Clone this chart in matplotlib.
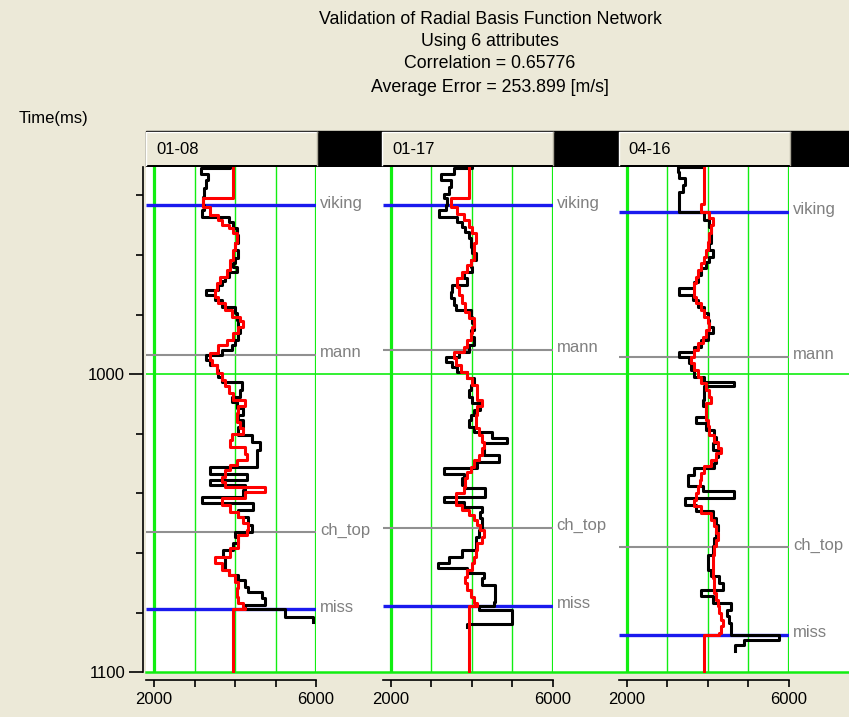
import numpy as np
import matplotlib.pyplot as plt
from matplotlib.patches import Rectangle

plt.rcParams['font.family'] = ['Liberation Sans', 'DejaVu Sans']

W, H = 849, 717

title_lines = ["Validation of Radial Basis Function Network",
               "Using 6 attributes",
               "Correlation = 0.65776",
               "Average Error = 253.899 [m/s]"]
wells = ["01-08", "01-17", "04-16"]
horizons = ["viking", "mann", "ch_top", "miss"]
horizon_times = [[943.3, 993.5, 1053.0, 1078.8],
                 [943.3, 991.8, 1051.5, 1077.6],
                 [945.5, 994.1, 1058.0, 1087.3]]

# (time ms, velocity m/s) - value holds from this time until the next one
actual_0108 = [(929.5, 3880), (931.0, 3160), (932.7, 3340), (934.9, 3290), (937.7, 3240),
               (940.5, 3200), (943.3, 3230), (944.9, 3180), (947.2, 3840), (948.9, 3960),
               (951.1, 4040), (953.3, 4080), (956.1, 4000), (958.3, 4070), (961.1, 4000),
               (962.8, 3960), (963.9, 4040), (965.6, 3840), (967.3, 3750), (968.9, 3670),
               (970.1, 3590), (971.7, 3280), (973.4, 3510), (975.1, 3670), (977.3, 4000),
               (979.6, 4040), (981.8, 4080), (984.0, 4120), (986.3, 4080), (988.5, 4000),
               (990.2, 3920), (991.8, 3670), (993.5, 3280), (995.2, 3390), (996.9, 3550),
               (998.5, 3590), (1000.8, 3670), (1002.5, 4160), (1005.2, 4120), (1007.5, 3920),
               (1009.2, 4040), (1011.4, 4200), (1013.6, 4080), (1015.4, 4200), (1017.6, 4080),
               (1020.4, 4410), (1022.7, 4620), (1025.5, 4530), (1031.0, 3390), (1033.3, 4290),
               (1035.5, 3390), (1037.2, 4250), (1038.9, 4200), (1041.1, 3180), (1043.3, 4450),
               (1045.6, 4080), (1047.8, 4330), (1050.6, 4410), (1052.8, 4000), (1054.5, 4080),
               (1056.7, 3960), (1059.0, 3710), (1061.2, 3750), (1065.7, 3840), (1067.3, 4080),
               (1069.0, 4250), (1071.2, 4330), (1072.9, 4660), (1075.2, 4740), (1077.4, 4250),
               (1078.8, 5230), (1081.3, 5930), (1083.2, 5930)]
predicted_0108 = [(929.0, 3950), (941.0, 3220), (943.8, 3390), (946.6, 3590), (948.3, 3670),
                  (950.0, 3840), (951.1, 3960), (952.8, 4040), (956.1, 4000), (958.3, 3960),
                  (961.7, 3880), (965.0, 3800), (967.3, 3630), (969.5, 3550), (971.7, 3510),
                  (974.0, 3590), (976.2, 3750), (978.4, 3920), (980.7, 4120), (982.3, 4200),
                  (984.0, 4080), (986.3, 3960), (988.5, 3800), (990.2, 3590), (993.0, 3390),
                  (995.2, 3430), (996.9, 3550), (999.7, 3670), (1001.9, 3750), (1004.1, 3840),
                  (1006.4, 3960), (1008.6, 4250), (1010.8, 4080), (1013.1, 4040), (1016.0, 4120),
                  (1018.2, 4200), (1019.9, 3920), (1022.1, 3880), (1024.3, 4250), (1026.6, 4290),
                  (1028.8, 4040), (1030.5, 3880), (1032.2, 3750), (1034.4, 3670), (1036.1, 3750),
                  (1037.7, 4740), (1039.4, 4250), (1041.6, 3670), (1043.9, 3880), (1046.1, 4080),
                  (1047.8, 4200), (1050.0, 4330), (1052.3, 4290), (1053.9, 4080), (1058.4, 3880),
                  (1061.2, 3510), (1063.4, 3670), (1065.7, 3840), (1067.3, 4000), (1069.6, 4080),
                  (1071.8, 4040), (1074.6, 4080), (1076.8, 4200), (1078.5, 4250), (1078.8, 3950),
                  (1100.5, 3950)]

actual_0117 = [(929.5, 4020), (931.0, 3570), (932.7, 3240), (934.9, 3480), (937.1, 3440),
               (939.4, 3320), (941.0, 3400), (943.3, 3360), (944.9, 3200), (947.2, 3650),
               (948.9, 3770), (950.5, 3850), (952.2, 3930), (954.4, 3980), (957.2, 4020),
               (959.5, 4100), (961.7, 3980), (963.9, 4020), (965.6, 3810), (967.8, 3890),
               (970.1, 3520), (972.3, 3480), (974.5, 3570), (976.8, 3610), (978.4, 3980),
               (980.7, 4020), (982.9, 4060), (985.1, 3980), (987.4, 4060), (990.2, 3930),
               (992.4, 3690), (994.1, 3360), (995.8, 3520), (997.6, 3650), (999.4, 3890),
               (1001.3, 4060), (1003.6, 3980), (1005.2, 3930), (1007.5, 4020), (1009.7, 4220),
               (1011.9, 4060), (1013.7, 3980), (1015.4, 3930), (1017.6, 4060), (1019.3, 4510),
               (1021.5, 4880), (1023.2, 4300), (1027.1, 4670), (1029.4, 4140), (1031.6, 3320),
               (1033.3, 3810), (1034.9, 3770), (1037.2, 3850), (1038.3, 4340), (1041.1, 3320),
               (1042.8, 3810), (1044.4, 4260), (1046.1, 4220), (1048.3, 4260), (1052.3, 4180),
               (1054.5, 4100), (1059.0, 3770), (1061.2, 3440), (1063.4, 3160), (1065.1, 3890),
               (1066.8, 4300), (1068.4, 4260), (1070.7, 4590), (1076.3, 4550), (1077.6, 4180),
               (1079.1, 5000), (1083.9, 3890), (1084.7, 3890)]
predicted_0117 = [(929.0, 3930), (941.0, 3480), (943.8, 3650), (946.1, 3810), (948.3, 3930),
                  (950.5, 4020), (952.8, 4100), (956.1, 4060), (961.7, 3980), (963.4, 3890),
                  (965.6, 3770), (967.8, 3650), (970.6, 3690), (973.4, 3770), (976.2, 3850),
                  (979.0, 3930), (981.2, 4060), (984.0, 4020), (986.3, 3980), (988.5, 3890),
                  (990.7, 3810), (992.4, 3570), (994.6, 3610), (996.9, 3730), (999.1, 3890),
                  (1001.3, 4020), (1003.6, 4140), (1008.6, 4260), (1010.8, 4140), (1013.6, 4100),
                  (1018.2, 4180), (1020.4, 4260), (1022.7, 4300), (1024.9, 4260), (1027.1, 4180),
                  (1028.8, 4060), (1031.0, 3980), (1032.7, 3890), (1034.9, 3850), (1037.7, 3810),
                  (1040.0, 3610), (1043.9, 3770), (1045.6, 3930), (1047.2, 4060), (1048.9, 4140),
                  (1050.6, 4220), (1052.3, 4300), (1054.5, 4260), (1056.7, 4140), (1059.0, 4100),
                  (1061.2, 4060), (1063.4, 4020), (1065.7, 3890), (1067.9, 3850), (1070.1, 3890),
                  (1072.4, 3980), (1074.6, 4060), (1076.8, 4140), (1077.6, 3930), (1100.5, 3930)]

actual_0416 = [(929.5, 3900), (930.4, 3260), (932.1, 3300), (934.3, 3430), (936.6, 3390),
               (938.8, 3300), (941.6, 3280), (945.5, 3920), (948.3, 4040), (950.5, 4080),
               (956.1, 4040), (958.3, 4120), (960.6, 4040), (962.3, 3960), (964.5, 3840),
               (966.7, 3750), (969.0, 3670), (971.2, 3300), (973.4, 3630), (975.1, 3750),
               (977.3, 3920), (979.6, 4000), (981.8, 4040), (984.0, 4120), (986.3, 4000),
               (988.5, 3840), (990.7, 3670), (992.4, 3300), (994.1, 3550), (996.3, 3590),
               (998.5, 3670), (1000.8, 3920), (1002.5, 4660), (1004.1, 3920), (1008.6, 3880),
               (1010.8, 3960), (1014.2, 3710), (1016.4, 3960), (1018.6, 4160), (1020.9, 4200),
               (1023.1, 4120), (1025.3, 4250), (1027.6, 4200), (1029.8, 4160), (1031.5, 3670),
               (1033.7, 3510), (1037.6, 3880), (1039.3, 4660), (1041.5, 3430), (1043.8, 3710),
               (1046.0, 4120), (1048.2, 4200), (1050.5, 4250), (1052.7, 4200), (1054.9, 4160),
               (1057.7, 4120), (1060.5, 4000), (1065.6, 4080), (1067.8, 4290), (1070.0, 4370),
               (1072.3, 3840), (1074.5, 4120), (1076.7, 4570), (1079.0, 4490), (1081.2, 4530),
               (1083.4, 4570), (1087.3, 5760), (1089.0, 4900), (1090.7, 4680), (1092.9, 4680)]
predicted_0416 = [(929.0, 3920), (943.0, 3840), (945.5, 4040), (947.7, 4120), (950.0, 4080),
                  (952.8, 4040), (955.6, 4000), (958.3, 3960), (960.6, 3920), (962.8, 3840),
                  (965.0, 3750), (967.3, 3710), (969.5, 3670), (974.0, 3710), (976.2, 3840),
                  (978.4, 3920), (980.7, 4000), (982.9, 4040), (985.1, 3960), (987.4, 3880),
                  (989.6, 3750), (991.8, 3670), (994.1, 3590), (996.3, 3670), (998.5, 3750),
                  (1000.8, 3840), (1003.0, 3960), (1005.2, 4040), (1007.5, 4080), (1009.7, 3960),
                  (1015.3, 4000), (1017.5, 4040), (1020.3, 4160), (1022.6, 4250), (1024.8, 4330),
                  (1026.5, 4200), (1028.7, 4080), (1030.9, 3920), (1033.2, 3840), (1035.4, 3800),
                  (1037.6, 3750), (1039.9, 3710), (1042.1, 3670), (1044.3, 3840), (1046.6, 4080),
                  (1048.8, 4160), (1051.0, 4200), (1053.3, 4250), (1055.5, 4200), (1057.7, 4160),
                  (1060.5, 4120), (1068.3, 4150), (1073.4, 4200), (1075.6, 4250), (1077.8, 4290),
                  (1080.1, 4330), (1082.3, 4370), (1084.5, 4330), (1086.8, 4290), (1087.3, 3920),
                  (1100.5, 3920)]

actual_logs = [actual_0108, actual_0117, actual_0416]
predicted_logs = [predicted_0108, predicted_0117, predicted_0416]

BG = '#ece9d8'
GREEN = '#11ee11'
FS = 12
t_top, t_bot = 930.5, 1100.2
track_left = [146, 382.5, 618.6]
track_w = 170


def px_rect(x0, y0, x1, y1):
    return [x0 / W, 1 - y1 / H, (x1 - x0) / W, (y1 - y0) / H]


fig = plt.figure(figsize=(W / 100, H / 100), dpi=100, facecolor=BG)

# titles, header strip
frame = fig.add_axes([0, 0, 1, 1], zorder=0)
frame.set_xlim(0, W)
frame.set_ylim(H, 0)
frame.axis('off')
for line, y in zip(title_lines, [20, 42, 64, 87]):
    frame.text(490, y, line, ha='center', va='center', fontsize=12.8)
frame.text(19, 118, 'Time(ms)', ha='left', va='center', fontsize=FS)
frame.add_patch(Rectangle((146, 131), W - 146, 36, color='black'))
for x0, name in zip(track_left, wells):
    frame.add_patch(Rectangle((x0, 132), 171, 33, facecolor=BG, edgecolor='none'))
    frame.plot([x0, x0, x0 + 171], [165, 132, 132], color='white', lw=1)
    frame.plot([x0 + 171, x0 + 171], [132, 165], color='#aca899', lw=1)
    frame.text(x0 + 10, 149, name, ha='left', va='center', fontsize=FS)

# white panel with full-width time lines
back = fig.add_axes(px_rect(146, 167, W, 673), zorder=1)
back.set_xlim(0, 1)
back.set_ylim(t_bot, t_top)
back.set_xticks([])
back.set_yticks([])
for s in back.spines.values():
    s.set_visible(False)
back.axhline(1000, color=GREEN, lw=1.2)
back.axhline(1100, color=GREEN, lw=1.8, clip_on=False)

for i, x0 in enumerate(track_left):
    ax = fig.add_axes(px_rect(x0, 167, x0 + track_w, 673), zorder=2)
    ax.patch.set_alpha(0)
    ax.set_xlim(1800, 6000)
    ax.set_ylim(t_bot, t_top)

    for v in [2000, 6000]:
        ax.axvline(v, color=GREEN, lw=2.3)
    for v in [3000, 4000, 5000]:
        ax.axvline(v, color=GREEN, lw=1.0)

    for name, t in zip(horizons, horizon_times[i]):
        blue = name in ('viking', 'miss')
        ax.hlines(t, 1800, 6000, color='#1a1aee' if blue else '#909090',
                  lw=2.4 if blue else 1.5, zorder=3)
        ax.annotate(name, (6000, t), xytext=(3, 1.5), textcoords='offset points',
                    ha='left', va='center', color='#808080', fontsize=FS,
                    annotation_clip=False)

    ta, va = np.array(actual_logs[i]).T
    tp, vp = np.array(predicted_logs[i]).T
    ax.plot(va, ta, drawstyle='steps-pre', color='black', lw=2.2, zorder=4)
    ax.plot(vp, tp, drawstyle='steps-pre', color='#ff0000', lw=2.2, zorder=5)

    for side in ['top', 'right', 'left']:
        ax.spines[side].set_visible(False)
    ax.spines['bottom'].set_position(('outward', 5))
    ax.spines['bottom'].set_linewidth(1.2)
    ax.set_xticks([2000, 3000, 4000, 5000, 6000])
    ax.set_xticklabels(['2000', '', '', '', '6000'])
    ax.tick_params(axis='x', direction='out', length=5, width=1.2, pad=4, labelsize=FS)

    if i == 0:
        ax.spines['left'].set_visible(True)
        ax.spines['left'].set_position(('outward', 2))
        ax.spines['left'].set_linewidth(1.2)
        ax.set_yticks([1000, 1100])
        ax.set_yticks([940, 960, 980, 1020, 1040, 1060, 1080], minor=True)
        ax.tick_params(axis='y', which='major', length=10, width=1.2, pad=3, labelsize=FS)
        ax.tick_params(axis='y', which='minor', length=5, width=1.2)
        ax.spines['left'].set_bounds(t_top, 1100)
    else:
        ax.set_yticks([])

fig.savefig('out.png', dpi=100, facecolor=BG)
